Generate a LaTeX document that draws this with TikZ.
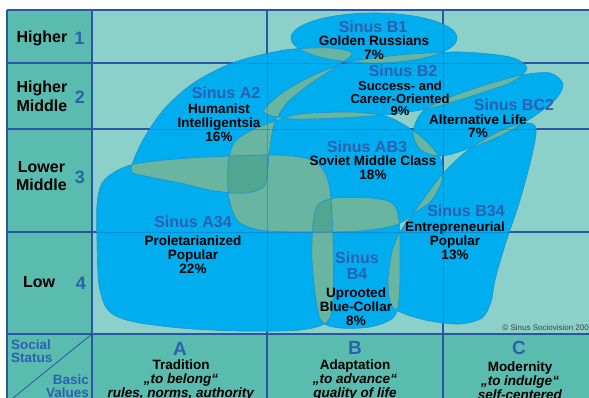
\documentclass[tikz,border=0pt]{standalone}
\usepackage{fontspec}
\setmainfont{Liberation Sans}
\definecolor{headteal}{RGB}{90,188,174}
\definecolor{cellteal}{RGB}{140,209,201}
\definecolor{blobcyan}{RGB}{0,174,239}
\definecolor{blobline}{RGB}{28,146,206}
\definecolor{lapgreen}{RGB}{104,181,161}
\definecolor{lapdark}{RGB}{80,167,145}
\definecolor{gridblue}{RGB}{42,86,166}
\definecolor{sinusblue}{RGB}{44,96,176}

\def\pathAtwo{plot[smooth cycle] coordinates {(131,170) (143,140) (165,108) (195,82) (235,62) (285,50) (330,48) (352,53) (340,64) (310,84) (287,103) (274,125) (269,155) (265,185) (245,193) (215,191) (180,183) (145,176)}}
\def\pathBone{(374,38) ellipse [x radius=83pt, y radius=25pt]}
\def\pathBtwo{plot[smooth cycle] coordinates {(264,110) (282,93) (312,76) (350,62) (400,55) (460,52) (510,57) (527,68) (512,82) (475,95) (435,107) (395,114) (340,118) (295,119) (272,116)}}
\def\pathBCtwo{plot[smooth cycle] coordinates {(413,133) (422,112) (448,98) (485,85) (522,75) (550,73) (563,84) (555,100) (530,119) (500,136) (470,148) (442,156) (421,150)}}
\def\pathABthree{plot[smooth cycle] coordinates {(300,114) (350,112) (385,116) (406,126) (426,141) (441,160) (442,180) (432,200) (416,212) (396,225) (360,231) (300,232) (260,230) (238,221) (229,198) (228,165) (234,143) (250,131) (275,121)}}
\def\pathAthreefour{plot[smooth cycle] coordinates {(97,205) (102,183) (118,170) (140,163) (190,158) (267,155) (305,158) (322,168) (330,190) (333,240) (333,300) (327,322) (300,330) (240,331) (180,328) (130,321) (108,310) (99,285) (97,240)}}
\def\pathBfour{plot[smooth cycle] coordinates {(313,225) (318,205) (335,198) (370,198) (392,203) (399,220) (400,260) (399,300) (393,318) (370,327) (340,328) (322,322) (316,300) (312,260)}}
\def\pathBthreefour{plot[smooth cycle] coordinates {(536,128) (532,155) (520,200) (505,245) (495,280) (491,302) (482,318) (460,324) (430,321) (405,314) (391,305) (388,280) (392,252) (400,232) (412,215) (440,177) (468,150) (500,131) (525,123)}}

\tikzset{
  blob/.style={fill=blobcyan},
  lap/.style={fill=lapgreen},
  lap3/.style={fill=lapdark},
  rim/.style={draw=blobline, line width=0.6pt},
  grid/.style={draw=gridblue, line width=1.2pt},
  faint/.style={draw=gridblue, line width=0.7pt, opacity=0.35},
  lvl/.style={inner sep=0pt, align=center, font=\bfseries\fontsize{16}{18.5}\selectfont},
  num/.style={inner sep=0pt, text=sinusblue, font=\bfseries\fontsize{18}{18}\selectfont},
  sinus/.style={inner sep=0pt, align=center, text=sinusblue, font=\bfseries\fontsize{16}{15.5}\selectfont},
  seg/.style={inner sep=0pt, align=center, font=\bfseries\fontsize{13.5}{14}\selectfont},
  col/.style={inner sep=0pt, text=sinusblue, font=\bfseries\fontsize{19}{19}\selectfont},
  axis/.style={inner sep=0pt, text=sinusblue, font=\bfseries\fontsize{13.5}{13.5}\selectfont}
}

\begin{document}
\begin{tikzpicture}[x=1pt, y=-1pt]
  \useasboundingbox (0,0) rectangle (589,398);
  \fill[white] (0,0) rectangle (589,398);
  \fill[headteal] (7,10) rectangle (589,398);
  \fill[cellteal] (92,10) rectangle (589,334);

  \foreach \y in {10,63,129,232,334}
    \draw[grid] (7,\y) -- (589,\y);
  \foreach \x in {7,92,267,443}
    \draw[grid] (\x,10) -- (\x,398);
  \coordinate (D1) at (92,334);
  \coordinate (D2) at (13,398);
  \draw[gridblue, line width=0.8pt] (D1) -- (D2);

  \foreach \p in {\pathAtwo, \pathBone, \pathBtwo, \pathBCtwo, \pathABthree, \pathAthreefour, \pathBfour, \pathBthreefour}
    \fill[blob] \p;

  \foreach \p/\q in {\pathAtwo/\pathBone, \pathAtwo/\pathBtwo, \pathAtwo/\pathABthree, \pathAtwo/\pathAthreefour,
                     \pathBone/\pathBtwo, \pathBtwo/\pathBCtwo, \pathBtwo/\pathABthree, \pathBCtwo/\pathABthree,
                     \pathBCtwo/\pathBthreefour, \pathABthree/\pathAthreefour, \pathABthree/\pathBfour,
                     \pathABthree/\pathBthreefour, \pathAthreefour/\pathBfour, \pathBfour/\pathBthreefour}{
    \begin{scope}
      \clip \p;
      \fill[lap] \q;
    \end{scope}
  }
  \foreach \p/\q/\r in {\pathAtwo/\pathAthreefour/\pathABthree, \pathAthreefour/\pathABthree/\pathBfour,
                        \pathABthree/\pathBfour/\pathBthreefour, \pathABthree/\pathBCtwo/\pathBthreefour}{
    \begin{scope}
      \clip \p;
      \clip \q;
      \fill[lap3] \r;
    \end{scope}
  }

  \foreach \p in {\pathAtwo, \pathBone, \pathBtwo, \pathBCtwo, \pathABthree, \pathAthreefour, \pathBfour, \pathBthreefour}
    \draw[rim] \p;

  \foreach \y in {63,129,232}
    \draw[faint] (92,\y) -- (589,\y);
  \foreach \x in {267,443}
    \draw[faint] (\x,10) -- (\x,334);

  \node[lvl] (H1) at (42,38) {Higher};
  \node[num] (N1) at (79.5,38) {1};
  \node[lvl] (H2) at (42,96.5) {Higher\\Middle};
  \node[num] (N2) at (80,97) {2};
  \node[lvl] (H3) at (41.5,176) {Lower\\Middle};
  \node[num] (N3) at (80,177) {3};
  \node[lvl] (H4) at (39,282) {Low};
  \node[num] (N4) at (81,283) {4};

  \node[sinus] (B1s) at (373,26.5) {Sinus B1};
  \node[seg] (B1d) at (374,48) {Golden Russians\\7\%};
  \node[sinus] (B2s) at (403,70.5) {Sinus B2};
  \node[seg, font=\bfseries\fontsize{13}{12.3}\selectfont] (B2d) at (400,98.5) {Success- and\\Career-Oriented\\9\%};
  \node[sinus] (BC2s) at (514,105) {Sinus BC2};
  \node[seg, font=\bfseries\fontsize{13.5}{13}\selectfont] (BC2d) at (478,126.5) {Alternative Life\\7\%};
  \node[sinus] (A2s) at (226,93) {Sinus A2};
  \node[seg] (A2d) at (219,123) {Humanist\\Intelligentsia\\16\%};
  \node[sinus] (AB3s) at (367,147) {Sinus AB3};
  \node[seg] (AB3d) at (373,168) {Soviet Middle Class\\18\%};
  \node[sinus] (A34s) at (193,222) {Sinus A34};
  \node[seg] (A34d) at (193,254.5) {Proletarianized\\Popular\\22\%};
  \node[sinus] (B34s) at (466,211) {Sinus B34};
  \node[seg] (B34d) at (455,240.5) {Entrepreneurial\\Popular\\13\%};
  \node[sinus] (B4s) at (357,265.5) {Sinus\\B4};
  \node[seg] (B4d) at (356,306.5) {Uprooted\\Blue-Collar\\8\%};

  \node[anchor=east, inner sep=0pt, text=black!75, font=\fontsize{8}{8}\selectfont] (CR) at (589,327.5) {© Sinus Sociovision 200};

  \node[axis, anchor=west, align=left] (SS) at (11,351) {Social\\Status};
  \node[axis, anchor=east, align=right] (BV) at (89,386) {Basic\\Values};

  \node[col] (CA) at (180,349) {A};
  \node[seg] (TA) at (181,380) {Tradition\\\textit{„to belong“}\\\textit{rules, norms, authority}};
  \node[col] (CB) at (355,348) {B};
  \node[seg] (TB) at (355,380) {Adaptation\\\textit{„to advance“}\\\textit{quality of life}};
  \node[col] (CC) at (519,348) {C};
  \node[seg] (TC) at (520,380.5) {Modernity\\\textit{„to indulge“}\\\textit{self-centered}};
\end{tikzpicture}
\end{document}
